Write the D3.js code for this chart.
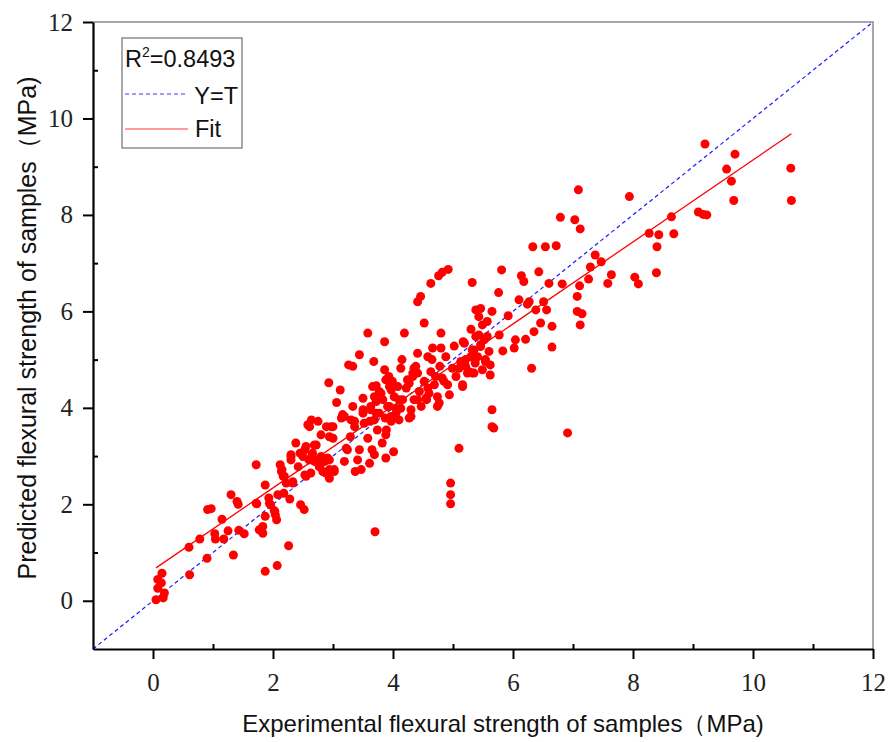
<!DOCTYPE html>
<html>
<head>
<meta charset="utf-8">
<script src="https://cdn.jsdelivr.net/npm/d3@7"></script>
<style>
  body { margin: 0; background: #fff; }
  svg { display: block; }
</style>
</head>
<body>
<div id="chart"></div>
<script>
const width = 894;
const height = 742;
const margin = { top: 22, right: 21, bottom: 93, left: 93 };

// experimental (x) and predicted (y) flexural strength, MPa
const expX = [
  0.05,0.17,0.19,0.08,0.14,0.08,0.15,0.61,0.60,0.78,0.90,0.91,0.97,1.03,1.04,1.15,1.18,1.25,1.30,1.34,
  1.40,1.42,1.43,1.52,1.72,1.73,1.77,1.83,1.87,1.87,1.87,1.93,1.96,2.02,2.04,2.06,2.07,2.08,2.12,2.15,
  2.18,2.19,2.26,2.28,2.30,2.30,2.33,2.38,2.45,2.46,2.52,2.55,2.55,2.60,2.63,2.65,2.69,2.73,2.77,2.83,
  2.88,2.94,2.85,2.94,3.02,3.19,3.24,
  1.72,1.83,1.94,2.03,2.14,2.17,2.22,2.30,2.33,2.42,2.50,2.53,2.53,2.61,2.64,2.64,2.66,2.69,2.72,2.75,
  2.78,2.80,2.80,2.86,2.89,2.91,2.94,2.94,2.97,3.00,3.02,2.93,3.06,3.12,3.14,3.19,3.22,3.26,3.29,3.30,
  3.33,3.36,3.37,3.41,3.44,3.44,3.47,3.50,3.50,3.52,3.58,3.58,3.61,3.63,3.65,3.68,3.69,3.69,3.72,3.72,
  3.74,3.77,3.80,3.82,3.86,3.86,3.87,3.88,3.88,3.89,3.93,3.94,3.97,3.97,3.99,4.01,4.02,4.05,4.08,4.10,
  4.13,4.13,4.15,4.19,4.22,4.24,4.27,4.30,4.33,4.35,4.38,4.41,4.41,4.44,4.47,4.52,4.55,4.58,4.60,4.63,
  4.66,4.69,4.74,4.77,4.80,4.80,4.82,4.88,4.91,4.94,4.96,4.96,4.96,4.99,5.05,5.10,5.13,5.16,5.19,5.21,
  5.27,5.30,5.32,5.35,5.37,5.41,5.43,5.46,5.49,5.54,5.60,5.62,5.65,5.65,
  2.58,3.00,3.16,3.33,3.36,3.50,3.61,3.63,3.66,3.69,3.72,3.77,3.83,3.88,3.91,3.94,3.97,4.05,4.10,4.16,
  4.27,4.30,4.33,4.35,4.38,4.41,4.41,4.46,4.52,4.56,4.58,4.63,4.65,4.71,4.74,4.76,4.78,4.82,4.85,4.92,
  5.02,5.10,5.16,5.17,5.19,5.21,5.24,5.30,5.32,5.32,5.35,5.38,5.38,5.43,5.46,5.46,5.49,5.52,5.54,5.57,
  5.57,5.62,5.68,5.76,5.77,5.81,5.83,5.92,6.02,6.04,6.10,6.14,6.18,6.21,6.27,6.31,6.33,6.35,6.38,6.43,
  6.46,6.51,6.54,
  5.65,6.24,6.56,6.60,6.65,6.65,6.72,6.79,6.82,7.03,7.07,7.07,7.09,7.11,7.12,7.12,7.15,7.26,7.29,7.37,
  7.47,7.58,7.64,7.94,8.03,8.09,8.27,8.39,8.40,8.43,8.64,8.68,9.09,
  9.20,9.70,9.56,9.64,9.68,9.17,9.23,10.63,10.64,3.70,6.91
];
const predY = [
  0.02,0.06,0.16,0.26,0.37,0.44,0.57,0.54,1.11,1.28,0.88,1.89,1.91,1.39,1.28,1.69,1.28,1.45,2.20,0.95,
  2.06,2.00,1.46,1.39,2.82,2.01,1.47,1.40,2.40,0.61,1.75,2.13,1.99,1.87,1.78,1.68,0.73,2.20,2.82,2.72,
  2.23,2.58,1.14,2.11,3.03,2.92,2.47,3.27,3.06,1.99,1.89,2.58,3.20,2.92,2.65,3.03,3.23,2.92,2.78,2.68,
  2.65,2.54,2.89,2.92,2.68,2.89,3.13,
  2.02,1.54,2.02,1.85,2.68,2.58,2.44,2.99,2.44,2.78,2.99,3.13,2.61,3.61,2.96,3.75,3.06,2.89,3.23,3.72,
  2.78,3.44,2.99,2.89,3.61,2.96,3.40,2.72,3.61,3.37,2.72,4.52,4.11,4.37,3.79,3.82,3.16,4.89,3.40,3.75,
  4.03,3.61,2.68,2.92,3.13,5.10,2.72,4.20,3.89,3.68,3.37,5.55,2.85,3.96,3.13,4.96,3.75,3.03,4.13,4.46,
  3.54,3.89,4.30,3.27,5.37,4.79,3.79,3.44,2.96,3.54,4.65,4.03,4.37,3.72,4.55,3.09,4.23,3.89,4.44,4.17,
  3.99,4.82,5.00,5.55,4.41,4.58,3.79,3.96,4.65,4.82,4.72,5.13,4.17,4.34,4.03,4.55,4.20,5.06,4.30,4.75,
  5.24,4.48,4.23,4.10,5.55,5.24,4.62,5.06,4.48,4.27,2.44,2.20,2.01,4.82,4.65,3.16,4.96,4.48,5.34,4.86,
  4.75,5.06,5.20,4.72,4.93,5.06,5.51,5.31,4.79,4.96,5.17,4.68,3.96,3.61,
  3.65,3.61,3.86,4.86,3.72,3.96,3.72,4.03,4.44,4.23,3.89,4.34,4.17,4.58,4.03,4.44,3.82,3.99,3.75,4.17,
  4.51,3.82,4.72,4.17,4.86,4.72,6.20,6.31,5.76,4.17,4.41,6.58,5.00,4.65,4.03,6.74,4.86,6.81,4.55,6.87,
  5.28,4.82,4.44,5.37,4.89,5.00,4.72,5.63,6.60,4.72,5.20,6.03,5.48,5.89,6.06,5.27,5.72,5.41,5.00,5.79,
  5.48,4.89,3.58,6.39,5.51,6.86,5.18,5.91,5.24,5.41,6.24,6.74,6.62,5.42,6.20,4.82,7.34,5.58,6.03,6.82,
  5.76,6.20,7.34,
  6.00,6.15,6.03,6.58,5.69,5.26,7.36,7.95,6.57,7.90,6.31,6.00,8.52,6.53,7.71,5.72,5.95,6.67,6.92,7.17,
  7.03,6.58,6.76,8.38,6.71,6.57,7.62,6.80,7.34,7.59,7.96,7.61,8.06,
  9.47,9.26,8.95,8.70,8.30,8.01,8.00,8.97,8.30,1.43,3.48
];

const xMajorTicks = [0, 2, 4, 6, 8, 10, 12];
const xMinorTicks = [1, 3, 5, 7, 9, 11];
const yMajorTicks = [0, 2, 4, 6, 8, 10, 12];
const yMinorTicks = [1, 3, 5, 7, 9, 11];

const fitIntercept = 0.64;
const fitSlope = 0.85;
const fitRange = [0.05, 10.64];
const r2Text = "0.8493";

const svg = d3.select("#chart")
  .append("svg")
  .attr("width", width)
  .attr("height", height);

svg.append("rect").attr("width", width).attr("height", height).attr("fill", "#fff");

const x = d3.scaleLinear().domain([-1, 12]).range([margin.left, width - margin.right]);
const y = d3.scaleLinear().domain([-1, 12]).range([height - margin.bottom, margin.top]);

// frame (top + right thin grey)
svg.append("path")
  .attr("d", `M${x(-1)},${y(12)}H${x(12)}V${y(-1)}`)
  .attr("fill", "none")
  .attr("stroke", "#8a8a8a")
  .attr("stroke-width", 1.5);

// Y=T reference line
svg.append("line")
  .attr("x1", x(-1)).attr("y1", y(-1))
  .attr("x2", x(12)).attr("y2", y(12))
  .attr("stroke", "#1a1aff")
  .attr("stroke-width", 1.2)
  .attr("stroke-dasharray", "4,3");

// points
svg.append("g")
  .selectAll("circle")
  .data(expX.map((v, i) => [v, predY[i]]))
  .join("circle")
  .attr("cx", d => x(d[0]))
  .attr("cy", d => y(d[1]))
  .attr("r", 4.5)
  .attr("fill", "#ff0000");

// fit line
svg.append("line")
  .attr("x1", x(fitRange[0])).attr("y1", y(fitIntercept + fitSlope * fitRange[0]))
  .attr("x2", x(fitRange[1])).attr("y2", y(fitIntercept + fitSlope * fitRange[1]))
  .attr("stroke", "#ff0000")
  .attr("stroke-width", 1.3);

// axes
svg.append("g")
  .attr("transform", `translate(0,${y(-1)})`)
  .call(d3.axisBottom(x).tickValues(xMajorTicks).tickSize(10).tickPadding(14).tickSizeOuter(0));
svg.append("g")
  .attr("transform", `translate(0,${y(-1)})`)
  .call(d3.axisBottom(x).tickValues(xMinorTicks).tickSize(-5).tickFormat("").tickSizeOuter(0))
  .select(".domain").remove();

svg.append("g")
  .attr("transform", `translate(${x(-1)},0)`)
  .call(d3.axisLeft(y).tickValues(yMajorTicks).tickSize(10).tickPadding(10).tickSizeOuter(0));
svg.append("g")
  .attr("transform", `translate(${x(-1)},0)`)
  .call(d3.axisLeft(y).tickValues(yMinorTicks).tickSize(-5).tickFormat("").tickSizeOuter(0))
  .select(".domain").remove();

svg.selectAll(".domain").attr("stroke", "#000").attr("stroke-width", 2.2);
svg.selectAll(".tick line").attr("stroke", "#000").attr("stroke-width", 2);
svg.selectAll(".tick text")
  .attr("font-family", "'Liberation Serif', 'DejaVu Serif', serif")
  .attr("font-size", 25)
  .attr("fill", "#222");

// axis titles
svg.append("text")
  .attr("x", 503)
  .attr("y", 732)
  .attr("text-anchor", "middle")
  .attr("font-family", "'Liberation Sans', Arial, sans-serif")
  .attr("font-size", 24)
  .attr("fill", "#111")
  .text("Experimental flexural strength of samples（MPa)");

svg.append("text")
  .attr("transform", `translate(36,328) rotate(-90)`)
  .attr("text-anchor", "middle")
  .attr("font-family", "'Liberation Sans', Arial, sans-serif")
  .attr("font-size", 25)
  .attr("fill", "#111")
  .text("Predicted flexural strength of samples（MPa)");

// legend
const legend = svg.append("g");
legend.append("rect")
  .attr("x", 122).attr("y", 38)
  .attr("width", 120).attr("height", 110)
  .attr("fill", "#fff")
  .attr("stroke", "#555")
  .attr("stroke-width", 1);

const r2 = legend.append("text")
  .attr("x", 125).attr("y", 67)
  .attr("font-family", "'Liberation Sans', Arial, sans-serif")
  .attr("font-size", 23.5)
  .attr("fill", "#111");
r2.append("tspan").text("R");
r2.append("tspan").attr("font-size", 14).attr("dy", -10).text("2");
r2.append("tspan").attr("dy", 10).text("=" + r2Text);

legend.append("line")
  .attr("x1", 125).attr("x2", 188).attr("y1", 94).attr("y2", 94)
  .attr("stroke", "#3a3aff").attr("stroke-width", 1.2).attr("stroke-dasharray", "4,3");
legend.append("text")
  .attr("x", 238).attr("y", 104)
  .attr("text-anchor", "end")
  .attr("font-family", "'Liberation Sans', Arial, sans-serif")
  .attr("font-size", 23.5)
  .attr("fill", "#111")
  .text("Y=T");

legend.append("line")
  .attr("x1", 125).attr("x2", 188).attr("y1", 129).attr("y2", 129)
  .attr("stroke", "#ff3a3a").attr("stroke-width", 1.2);
legend.append("text")
  .attr("x", 195).attr("y", 137)
  .attr("font-family", "'Liberation Sans', Arial, sans-serif")
  .attr("font-size", 23.5)
  .attr("fill", "#111")
  .text("Fit");
</script>
</body>
</html>
